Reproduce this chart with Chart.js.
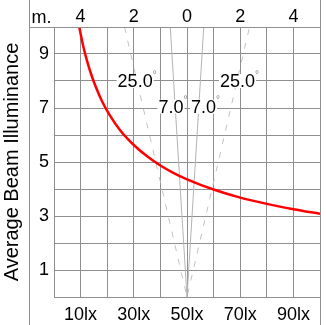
<!DOCTYPE html>
<html>
<head>
<meta charset="utf-8">
<script src="https://cdn.jsdelivr.net/npm/chart.js@4"></script>
<style>
  html, body { margin: 0; padding: 0; background: #fff; }
  canvas { display: block; }
</style>
</head>
<body>
<canvas id="chart" width="327" height="325"></canvas>
<script>
// illuminance curve (lux -> height in m)
const luxValues = [9.5, 10, 11, 12.5, 14, 16, 18, 21, 25, 30, 35, 40, 45, 50, 60, 70, 80, 90, 100];
const heightValues = [10.0, 9.75, 9.29, 8.72, 8.24, 7.71, 7.26, 6.73, 6.16, 5.63, 5.21, 4.87, 4.59, 4.36, 3.98, 3.68, 3.45, 3.25, 3.08];

// beam cones: half width in metres at 10 m height
const beamAngles = ['25.0', '7.0'];
const beamHalfWidth = [2.35, 0.63];

const heightTicks = [1, 3, 5, 7, 9];
const luxTicks = [10, 30, 50, 70, 90];
const meterTicks = [-4, -2, 0, 2, 4];

const FONT = '"Liberation Sans", Arial, sans-serif';
const GRID = '#8f8f8f';

const coneData = (half) => [{ x: -half, y: 10 }, { x: 0, y: 0 }, { x: half, y: 10 }];

// where the angle labels sit (metres, height)
const labelSpots = [
  { text: beamAngles[0], m: -1.95, h: 8.0 },
  { text: beamAngles[0], m: 1.9, h: 8.0 },
  { text: beamAngles[1], m: -0.6, h: 7.05 },
  { text: beamAngles[1], m: 0.62, h: 7.05 },
];

const framePlugin = {
  id: 'frame',
  afterDraw(chart) {
    const { ctx, chartArea: a, height } = chart;
    const xm = chart.scales.x2, y = chart.scales.y;
    ctx.save();
    ctx.strokeStyle = GRID;
    ctx.lineWidth = 1;
    ctx.beginPath();
    ctx.moveTo(29.5, 0); ctx.lineTo(29.5, height);
    ctx.moveTo(a.right + 0.5, 0); ctx.lineTo(a.right + 0.5, height);
    ctx.moveTo(29, a.top + 0.5); ctx.lineTo(a.right, a.top + 0.5);
    ctx.stroke();

    // top strip: metres across the beam
    ctx.fillStyle = '#000';
    ctx.font = '18px ' + FONT;
    ctx.textAlign = 'center';
    ctx.textBaseline = 'alphabetic';
    ctx.fillText('m.', (29 + a.left) / 2, 23);
    meterTicks.forEach((m) => {
      ctx.fillText(String(Math.abs(m)), xm.getPixelForValue(m), 22);
    });

    ctx.textBaseline = 'middle';
    labelSpots.forEach((s) => {
      const cx = xm.getPixelForValue(s.m);
      const cy = y.getPixelForValue(s.h);
      ctx.font = '18px ' + FONT;
      const w = ctx.measureText(s.text).width;
      ctx.fillStyle = '#fff';
      ctx.fillRect(cx - w / 2 - 1, cy - 7, w + 2, 14);
      ctx.fillStyle = '#000';
      ctx.fillText(s.text, cx, cy + 1);
      ctx.font = '10px ' + FONT;
      ctx.fillStyle = '#888';
      ctx.textAlign = 'left';
      ctx.fillText('°', cx + w / 2, cy - 6);
      ctx.textAlign = 'center';
    });
    ctx.restore();
  },
};

new Chart(document.getElementById('chart'), {
  type: 'scatter',
  data: {
    datasets: [
      {
        data: luxValues.map((v, i) => ({ x: v, y: heightValues[i] })),
        xAxisID: 'x',
        showLine: true,
        borderColor: '#ff0000',
        borderWidth: 2.5,
        pointRadius: 0,
        cubicInterpolationMode: 'monotone',
      },
      {
        data: coneData(beamHalfWidth[1]),
        xAxisID: 'x2',
        showLine: true,
        borderColor: '#b4b4b4',
        borderWidth: 1,
        pointRadius: 0,
      },
      {
        data: coneData(beamHalfWidth[0]),
        xAxisID: 'x2',
        showLine: true,
        borderColor: '#c2c2c2',
        borderWidth: 1,
        borderDash: [6, 8],
        pointRadius: 0,
      },
    ],
  },
  options: {
    responsive: false,
    animation: false,
    devicePixelRatio: 1,
    layout: { padding: { left: 0, right: 3, top: 0, bottom: 0 } },
    plugins: { legend: { display: false }, tooltip: { enabled: false } },
    scales: {
      x: {
        type: 'linear',
        position: 'bottom',
        min: 0, max: 100,
        afterFit: (s) => { s.height = 28; },
        grid: { color: GRID, drawTicks: false },
        border: { color: GRID },
        ticks: {
          stepSize: 10,
          padding: 7,
          color: '#000',
          font: { family: FONT, size: 18 },
          maxRotation: 0,
          autoSkip: false,
          callback: (v) => (luxTicks.includes(v) ? v + 'lx' : ''),
        },
      },
      x2: {
        type: 'linear',
        position: 'top',
        min: -5, max: 5,
        afterFit: (s) => { s.height = 27; },
        grid: { display: false, drawTicks: false },
        border: { display: false },
        ticks: { display: false },
      },
      y: {
        type: 'linear',
        min: 0, max: 10,
        afterFit: (s) => { s.width = 54; },
        grid: { color: GRID, drawTicks: false },
        border: { color: GRID },
        title: {
          display: true,
          text: 'Average Beam Illuminance',
          color: '#000',
          font: { family: FONT, size: 20 },
          padding: 0,
        },
        ticks: {
          stepSize: 1,
          padding: 5,
          color: '#000',
          font: { family: FONT, size: 18 },
          autoSkip: false,
          callback: (v) => (heightTicks.includes(v) ? String(v) : ''),
        },
      },
    },
  },
  plugins: [framePlugin],
});
</script>
</body>
</html>
